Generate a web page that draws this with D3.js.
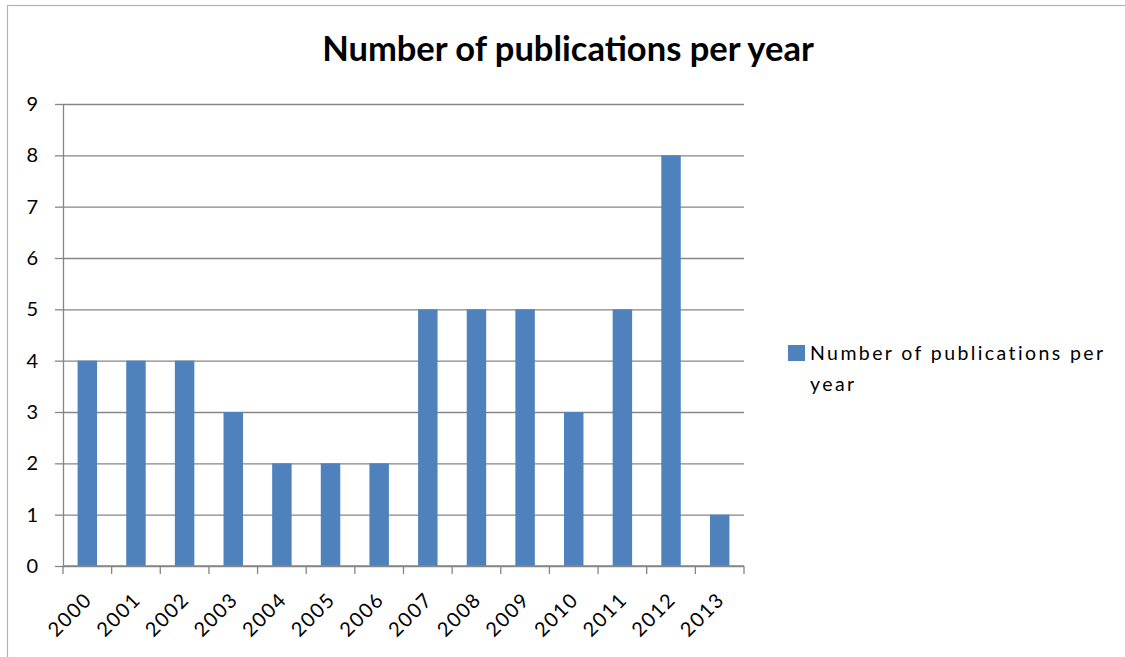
<!DOCTYPE html>
<html lang="en">
<head>
<meta charset="UTF-8">
<title>Number of publications per year</title>
<script src="https://d3js.org/d3.v7.min.js"></script>
<style>
  body { margin: 0; background: #fff; }
  svg { display: block; }
  svg text { font-family: Lato, "Open Sans", sans-serif; fill: #000; }
  .axis path, .axis line { stroke: #868686; stroke-width: 1.3; }
  .grid line { stroke: #868686; stroke-width: 1.3; }
  .grid path { display: none; }
</style>
</head>
<body>
<div id="chart"></div>
<script>
  // data
  const years = ["2000", "2001", "2002", "2003", "2004", "2005", "2006",
                 "2007", "2008", "2009", "2010", "2011", "2012", "2013"];
  const publications = [4, 4, 4, 3, 2, 2, 2, 5, 5, 5, 3, 5, 8, 1];
  const yTicks = [0, 1, 2, 3, 4, 5, 6, 7, 8, 9];
  const seriesName = "Number of publications per year";

  const W = 1125, H = 657;
  const plot = { left: 63, right: 744, top: 104, bottom: 566 };

  const svg = d3.select("#chart").append("svg")
    .attr("width", W)
    .attr("height", H);

  // chart frame (only top and left edges fall inside the picture)
  svg.append("rect")
    .attr("x", 7.5).attr("y", 5.5)
    .attr("width", W + 20).attr("height", H + 20)
    .attr("fill", "#fff")
    .attr("stroke", "#b3b3b3")
    .attr("stroke-width", 1.2);

  const x = d3.scaleBand()
    .domain(years)
    .range([plot.left, plot.right])
    .paddingInner(0.6)
    .paddingOuter(0.3);

  const y = d3.scaleLinear()
    .domain([0, 9])
    .range([plot.bottom, plot.top]);

  // gridlines
  svg.append("g")
    .attr("class", "grid")
    .attr("transform", `translate(${plot.left},0)`)
    .call(d3.axisLeft(y).tickValues(yTicks).tickSize(-(plot.right - plot.left)).tickFormat(""));

  // y axis
  const yAxis = svg.append("g")
    .attr("class", "axis")
    .attr("transform", `translate(${plot.left},0)`)
    .call(d3.axisLeft(y).tickValues(yTicks).tickSizeInner(8).tickSizeOuter(0).tickPadding(17));
  yAxis.selectAll("text")
    .style("font-family", "Lato, 'Open Sans', sans-serif")
    .style("font-size", "20px");

  // bars
  svg.selectAll(".bar")
    .data(years)
    .enter()
    .append("rect")
    .attr("class", "bar")
    .attr("x", d => x(d))
    .attr("y", (d, i) => y(publications[i]))
    .attr("width", x.bandwidth())
    .attr("height", (d, i) => y(0) - y(publications[i]))
    .attr("fill", "#4f81bd");

  // x axis: line plus ticks on category boundaries
  const step = x.step();
  const edges = years.map(d => x(d) - step * x.paddingInner() / 2);
  edges.push(plot.right);
  const xAxis = svg.append("g").attr("class", "axis");
  xAxis.append("line")
    .attr("x1", plot.left).attr("x2", plot.right)
    .attr("y1", plot.bottom).attr("y2", plot.bottom);
  xAxis.selectAll(".tick")
    .data(edges)
    .enter()
    .append("line")
    .attr("x1", d => d).attr("x2", d => d)
    .attr("y1", plot.bottom).attr("y2", plot.bottom + 8);

  svg.selectAll(".xlabel")
    .data(years)
    .enter()
    .append("text")
    .attr("class", "xlabel")
    .attr("transform", d => `translate(${x(d) + x.bandwidth() / 2 + 6},601) rotate(-45)`)
    .attr("text-anchor", "end")
    .style("font-size", "20px")
    .style("letter-spacing", "1.5px")
    .text(d => d);

  // title
  svg.append("text")
    .attr("x", 568)
    .attr("y", 61)
    .attr("text-anchor", "middle")
    .style("font-size", "34.5px")
    .style("font-weight", "bold")
    .text(seriesName);

  // legend
  const legend = svg.append("g").attr("transform", "translate(788,345)");
  legend.append("rect")
    .attr("width", 17).attr("height", 16)
    .attr("fill", "#4f81bd");
  legend.append("text")
    .attr("x", 22).attr("y", 14.5)
    .style("font-size", "19.5px")
    .style("letter-spacing", "2.4px")
    .text("Number of publications per");
  legend.append("text")
    .attr("x", 22).attr("y", 45.5)
    .style("font-size", "19.5px")
    .style("letter-spacing", "2.4px")
    .text("year");
</script>
</body>
</html>
